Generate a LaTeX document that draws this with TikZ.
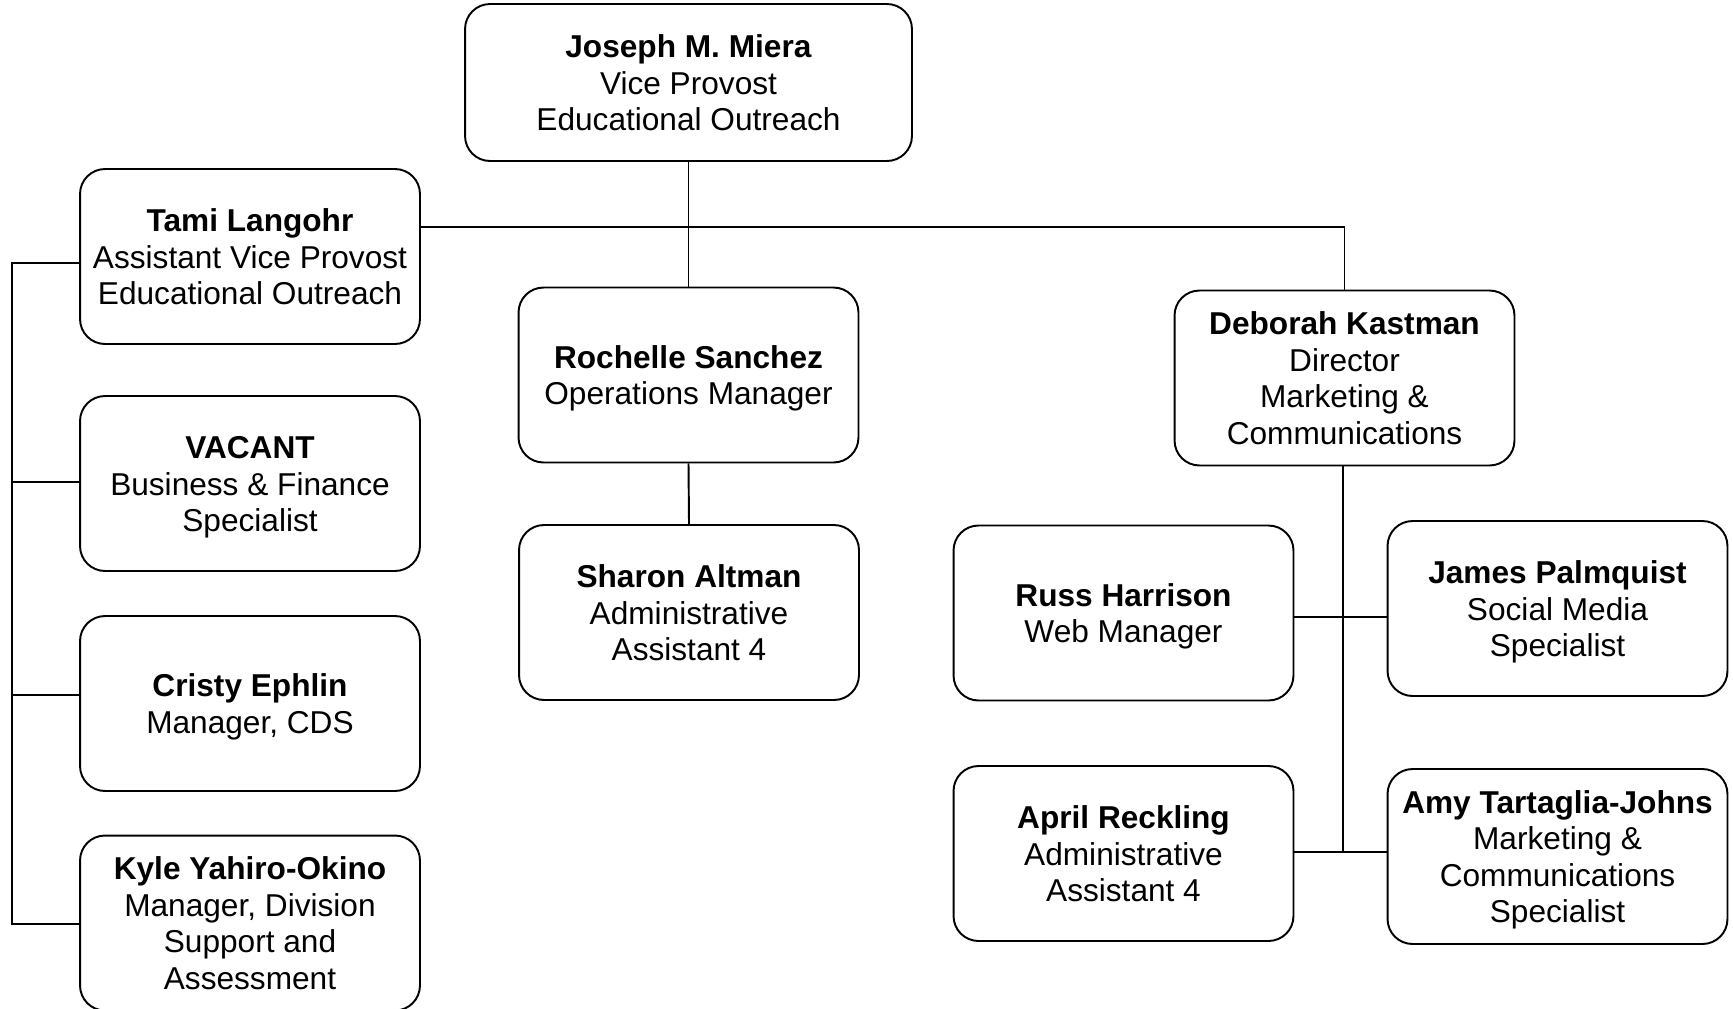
\documentclass[tikz,border=0pt]{standalone}
\usepackage{fontspec}
\setmainfont{Liberation Sans}
\newcommand\pname[1]{\rule{0pt}{19.4pt}\textbf{#1}}
\begin{document}
\begin{tikzpicture}[x=0.02cm,y=-0.02cm,
  box/.style={draw=black, line width=1.1pt, rounded corners=0.5cm, align=center,
    minimum width=6.8cm, minimum height=3.5cm, inner sep=0pt,
    font=\fontsize{18}{20.8}\selectfont,
    execute at end node={\rule[-6.24pt]{0pt}{0pt}}},
  conn/.style={draw=black, line width=1.1pt}]
\useasboundingbox[fill=white] (0,0) rectangle (1733,1008);

\node[box, minimum width=8.94cm, minimum height=3.14cm] (joseph) at (688.5,82.5)
  {\pname{Joseph M. Miera}\\Vice Provost\\Educational Outreach};
\node[box] (tami) at (250,256.5)
  {\pname{Tami Langohr}\\Assistant Vice Provost\\Educational Outreach};
\node[box] (vacant) at (250,483.5)
  {\pname{VACANT}\\Business \& Finance\\Specialist};
\node[box] (cristy) at (250,703.5)
  {\pname{Cristy Ephlin}\\Manager, CDS};
\node[box] (kyle) at (250,923)
  {\pname{Kyle Yahiro-Okino}\\Manager, Division\\Support and\\Assessment};
\node[box] (rochelle) at (688.5,375)
  {\pname{Rochelle Sanchez}\\Operations Manager};
\node[box] (sharon) at (689,612.5)
  {\pname{Sharon Altman}\\Administrative\\Assistant 4};
\node[box] (deborah) at (1344.5,378)
  {\pname{Deborah Kastman}\\Director\\Marketing \&\\Communications};
\node[box] (russ) at (1123.5,613)
  {\pname{Russ Harrison}\\Web Manager};
\node[box] (james) at (1557.5,608.5)
  {\pname{James Palmquist}\\Social Media\\Specialist};
\node[box] (april) at (1123.5,853.5)
  {\pname{April Reckling}\\Administrative\\Assistant 4};
\node[box] (amy) at (1557.5,856.5)
  {\pname{Amy Tartaglia-Johns}\\Marketing \&\\Communications\\Specialist};

% top level
\draw[conn] (joseph.south) -- (rochelle.north);
\coordinate (tamiR) at (tami.east |- 0,227);
\draw[conn] (tamiR) -| (deborah.north);
\draw[conn] (rochelle.south) -- (sharon.north);

% left bracket
\coordinate (b1) at (12,263);
\coordinate (b4) at (12,924);
\draw[conn] (tami.west |- b1) -- (b1) -- (b4) -- (kyle.west |- b4);
\draw[conn] (12,482) -- (vacant.west |- 0,482);
\draw[conn] (12,695) -- (cristy.west |- 0,695);

% right group
\coordinate (dtrunk) at (1343,852);
\draw[conn] (deborah.south -| dtrunk) -- (dtrunk);
\draw[conn] (russ.east |- 0,617) -- (james.west |- 0,617);
\draw[conn] (april.east |- dtrunk) -- (amy.west |- dtrunk);
\end{tikzpicture}
\end{document}
